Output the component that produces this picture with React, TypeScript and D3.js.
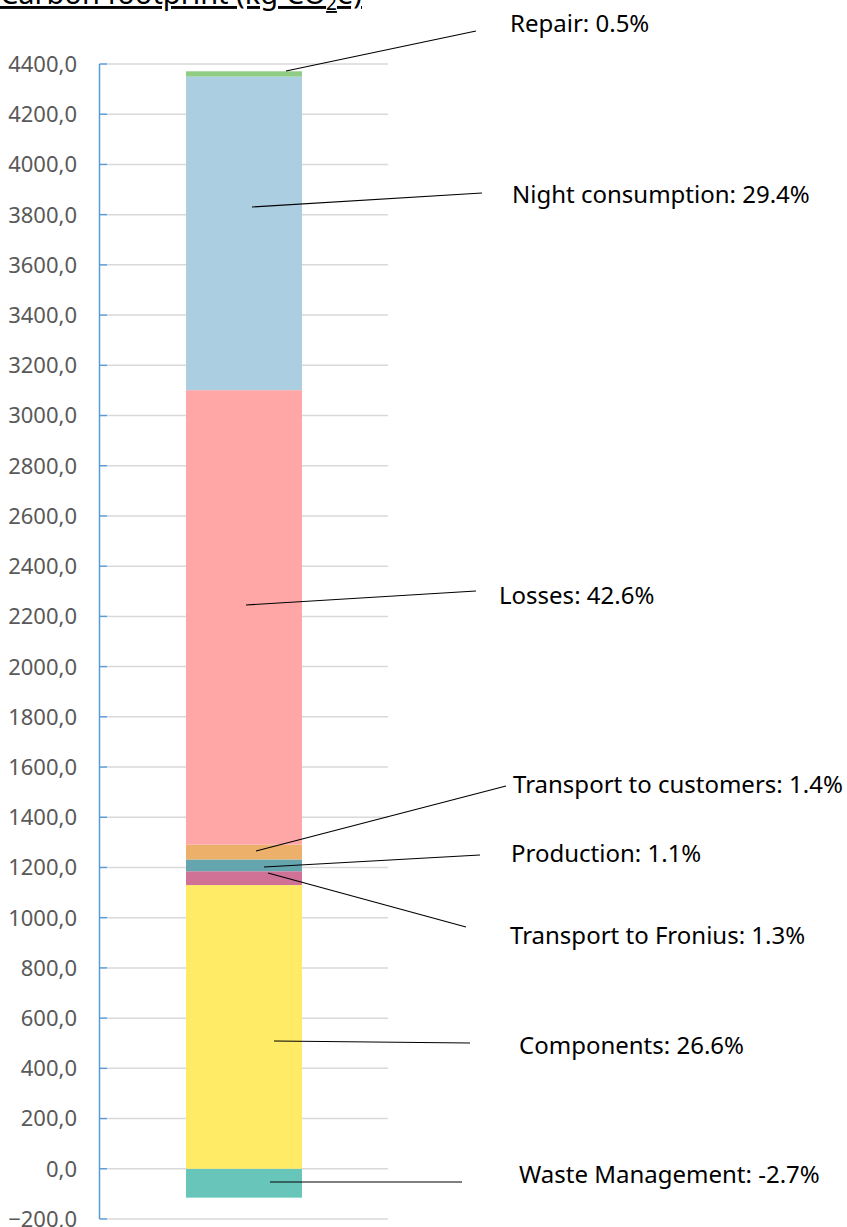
import React from 'react';
import * as d3 from 'd3';

const categories = ['Waste Management', 'Components', 'Transport to Fronius', 'Production', 'Transport to customers', 'Losses', 'Night consumption', 'Repair'];
const values = [-115, 1130, 55, 47, 59, 1810, 1249, 21];
const shares = ['-2.7%', '26.6%', '1.3%', '1.1%', '1.4%', '42.6%', '29.4%', '0.5%'];
const yTickValues = d3.range(-200, 4401, 200);

const colors = ['#67c6b9', '#ffeb66', '#cf7295', '#65a6ae', '#edb06b', '#ffa7a6', '#abcfe1', '#8fcd84'];

// leader-line layout (anchor on bar -> end near label, label baseline)
const labelLayout = [
  { ax: 270, ay: 1182, bx: 462, by: 1182, tx: 519, ty: 1183 },
  { ax: 274, ay: 1041, bx: 470, by: 1043, tx: 519, ty: 1054 },
  { ax: 268, ay: 873, bx: 466, by: 927, tx: 510, ty: 944 },
  { ax: 264, ay: 867, bx: 480, by: 855, tx: 511, ty: 862 },
  { ax: 256, ay: 851, bx: 506, by: 786, tx: 513, ty: 793 },
  { ax: 246, ay: 605, bx: 476, by: 591, tx: 499, ty: 604 },
  { ax: 252, ay: 207, bx: 482, by: 193, tx: 512, ty: 203 },
  { ax: 286, ay: 71, bx: 476, by: 31, tx: 510, ty: 31.5 },
];

const W = 847;
const H = 1227;
const FONT = "'Noto Sans', 'Open Sans', sans-serif";

export default function App() {
  const y = d3.scaleLinear().domain([-200, 4400]).range([1219, 64]);
  const barX = 186;
  const barW = 116;

  const row: Record<string, number> = {};
  categories.forEach((c, i) => (row[c] = values[i]));
  const stack = d3.stack<Record<string, number>>().keys(categories).offset(d3.stackOffsetDiverging);
  const series = stack([row]);

  const axisX = 99.5;

  return (
    <svg width={W} height={H} style={{ position: 'absolute', top: 0, left: 0, background: '#fff' }} fontFamily={FONT}>
      {/* title (cut at top) */}
      <text x={362} y={4} textAnchor="end" fontSize={29} fill="#000" textDecoration="underline">
        Carbon footprint (kg CO<tspan fontSize={19} dy={6}>2</tspan><tspan dy={-6}>e)</tspan>
      </text>

      {/* gridlines */}
      {yTickValues.map((t) => (
        <line key={'g' + t} x1={107} x2={388} y1={y(t)} y2={y(t)} stroke="#d9d9d9" strokeWidth={1.5} />
      ))}

      {/* bars */}
      {series.map((s, i) => {
        const d = s[0];
        const y0 = y(d[1]);
        const y1 = y(d[0]);
        return <rect key={categories[i]} x={barX} width={barW} y={Math.min(y0, y1)} height={Math.abs(y1 - y0)} fill={colors[i]} />;
      })}

      {/* axis */}
      <line x1={axisX} x2={axisX} y1={y(4400)} y2={y(-200)} stroke="#5b9bd5" strokeWidth={1.5} />
      {yTickValues.map((t) => (
        <g key={'t' + t}>
          <line x1={axisX} x2={107} y1={y(t)} y2={y(t)} stroke="#5b9bd5" strokeWidth={1.5} />
          <text x={77} y={y(t)} dy="0.36em" textAnchor="end" fontSize={22} fill="#595959">
            {d3.format('.1f')(t).replace('.', ',')}
          </text>
        </g>
      ))}

      {/* labels */}
      {categories.map((c, i) => {
        const l = labelLayout[i];
        return (
          <g key={'l' + c}>
            <line x1={l.ax} y1={l.ay} x2={l.bx} y2={l.by} stroke="#000" strokeWidth={1.2} />
            <text x={l.tx} y={l.ty} fontSize={24} fill="#000">
              {c}: {shares[i]}
            </text>
          </g>
        );
      })}
    </svg>
  );
}
